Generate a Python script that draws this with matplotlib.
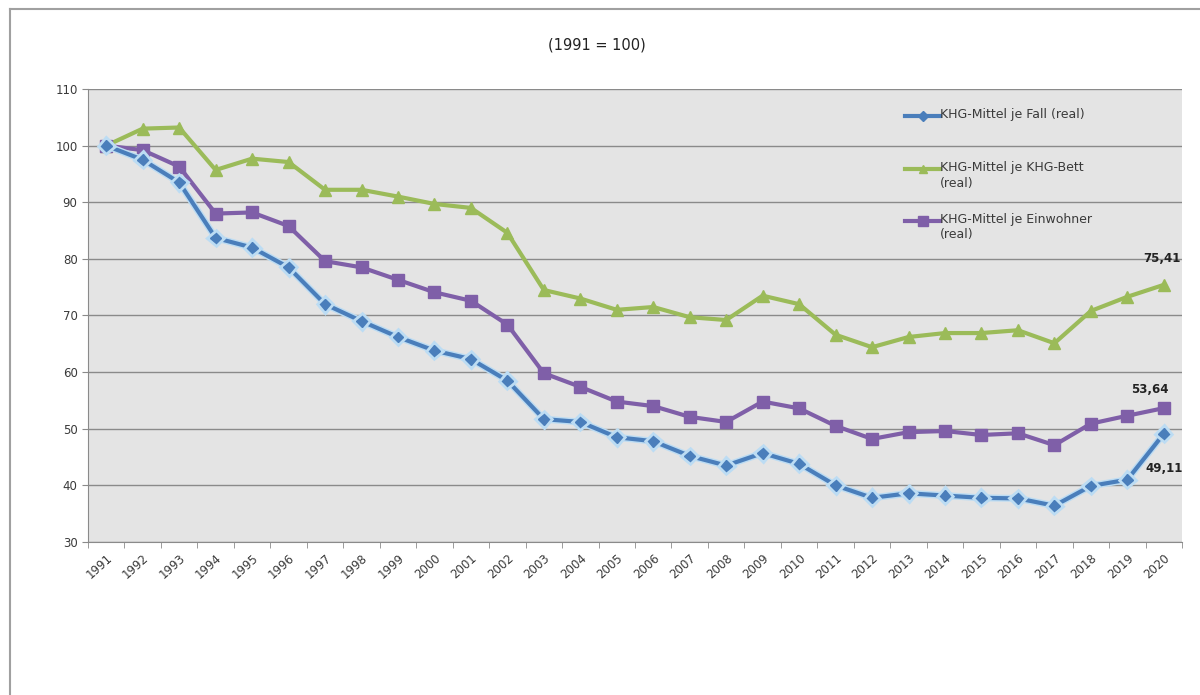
import matplotlib
matplotlib.use("Agg")
import matplotlib.pyplot as plt
import matplotlib.patheffects as pe
from matplotlib.lines import Line2D
import numpy as np

plt.rcParams['font.family'] = ['DejaVu Sans']

years = [str(y) for y in range(1991, 2021)]

je_fall = [100, 97.5, 93.5, 83.7, 82.0, 78.5, 72.0, 69.0, 66.2, 63.8,
           62.3, 58.5, 51.7, 51.2, 48.5, 47.8, 45.2, 43.5, 45.7, 43.8,
           40.0, 37.8, 38.6, 38.2, 37.8, 37.7, 36.4, 39.9, 41.0, 49.11]

je_bett = [100, 103.0, 103.2, 95.7, 97.7, 97.1, 92.2, 92.2, 91.0, 89.7,
           89.0, 84.6, 74.5, 73.0, 71.0, 71.5, 69.7, 69.2, 73.5, 72.0,
           66.6, 64.4, 66.2, 66.9, 66.9, 67.4, 65.1, 70.8, 73.3, 75.41]

je_einwohner = [100, 99.2, 96.3, 88.0, 88.2, 85.8, 79.6, 78.5, 76.3, 74.1,
                72.6, 68.4, 59.8, 57.4, 54.8, 54.0, 52.1, 51.2, 54.8, 53.6,
                50.5, 48.2, 49.4, 49.6, 48.9, 49.2, 47.1, 50.9, 52.3, 53.64]

labels = ["KHG-Mittel je Fall (real)",
          "KHG-Mittel je KHG-Bett\n(real)",
          "KHG-Mittel je Einwohner\n(real)"]

c_blue = "#4a7ebb"
c_green = "#9bbb59"
c_purple = "#7f5fa8"
c_text = "#3a3a3a"

W, H = 1200, 695
fig = plt.figure(figsize=(12, 6.95), dpi=100)
fig.patch.set_facecolor("white")

# outer frame (top and left edges)
fig.add_artist(Line2D([10 / W, 1.0], [1 - 9 / H, 1 - 9 / H], color="#a0a0a0", lw=1.5,
                      transform=fig.transFigure))
fig.add_artist(Line2D([10 / W, 10 / W], [0, 1 - 9 / H], color="#a0a0a0", lw=1.5,
                      transform=fig.transFigure))

left, right, top, bottom = 88, 1182, 89, 542
ax = fig.add_axes([left / W, 1 - bottom / H, (right - left) / W, (bottom - top) / H])
ax.set_facecolor("#e4e4e4")

x = np.arange(len(years))

glow = [pe.Stroke(linewidth=5, foreground="#bcdcf3"), pe.Normal()]
ax.plot(x, je_fall, color=c_blue, lw=3, marker="D", ms=5.5, mec=c_blue, mfc=c_blue,
        zorder=4, path_effects=glow)
ax.plot(x, je_bett, color=c_green, lw=3, marker="^", ms=8, mec=c_green, mfc=c_green,
        zorder=3)
ax.plot(x, je_einwohner, color=c_purple, lw=3, marker="s", ms=9, mec=c_purple,
        mfc=c_purple, zorder=3)

ax.set_xlim(-0.5, len(years) - 0.5)
ax.set_ylim(30, 110)
ax.set_yticks(range(30, 111, 10))
ax.yaxis.grid(True, color="#8a8a8a", lw=1)
ax.set_axisbelow(True)

ax.set_xticks(x)
ax.set_xticklabels(years, rotation=42, ha="right", va="top", rotation_mode="anchor",
                   fontsize=8.5, color=c_text)
ax.tick_params(axis="x", which="major", length=0, pad=7)
ax.set_xticks(np.arange(-0.5, len(years)), minor=True)
ax.tick_params(axis="x", which="minor", length=4, color="#8a8a8a")
ax.tick_params(axis="y", length=4, color="#8a8a8a", labelsize=8.5, labelcolor=c_text)

for s in ["top", "right"]:
    ax.spines[s].set_visible(False)
for s in ["left", "bottom"]:
    ax.spines[s].set_color("#8a8a8a")

# end-value labels
ax.annotate(f"{je_bett[-1]:.2f}".replace(".", ","), (x[-1], je_bett[-1]),
            xytext=(-1, 14), textcoords="offset points", ha="center", va="bottom",
            fontsize=8.5, fontweight="bold", color="#222222")
ax.annotate(f"{je_einwohner[-1]:.2f}".replace(".", ","), (x[-1], je_einwohner[-1]),
            xytext=(-10, 9), textcoords="offset points", ha="center", va="bottom",
            fontsize=8.5, fontweight="bold", color="#222222")
ax.annotate(f"{je_fall[-1]:.2f}".replace(".", ","), (x[-1], je_fall[-1]),
            xytext=(0, -20), textcoords="offset points", ha="center", va="top",
            fontsize=8.5, fontweight="bold", color="#222222")

fig.text(597 / W, 1 - 45 / H, "(1991 = 100)", ha="center", va="center",
         fontsize=10.5, color="#222222")

# legend
styles = [(c_blue, "D", 5), (c_green, "^", 6), (c_purple, "s", 7)]
ys = [116, 169, 221]
for (col, mk, ms), lab, yy in zip(styles, labels, ys):
    yf = 1 - yy / H
    fig.add_artist(Line2D([905 / W, 940 / W], [yf, yf], color=col, lw=3,
                          transform=fig.transFigure))
    fig.add_artist(Line2D([922.5 / W], [yf], color=col, marker=mk, ms=ms, mec=col,
                          transform=fig.transFigure))
    fig.text(940 / W, yf + 8 / H, lab, ha="left", va="top", fontsize=9,
             color=c_text, linespacing=1.25)

fig.savefig("out.png", dpi=100)
